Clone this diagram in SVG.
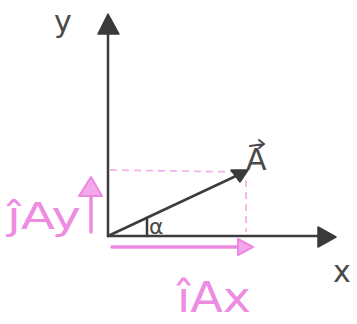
<svg xmlns="http://www.w3.org/2000/svg" width="357" height="324" viewBox="0 0 357 324">
<defs>
<style>
.ax{stroke:#3c3c3c;stroke-width:2.5;fill:none;stroke-linecap:round}
.head{fill:#3a3a3a;stroke:#3a3a3a;stroke-width:1.5;stroke-linejoin:round}
.pk{stroke:#ec8ae0;stroke-width:3.5;fill:none;stroke-linecap:round}
.pkhead{fill:#f2a8ea;stroke:#ec8ae0;stroke-width:2;stroke-linejoin:round}
.dash{stroke:#f4b4ec;stroke-width:1.8;fill:none;stroke-dasharray:7 5}
.lbl{font-family:"DejaVu Sans","Liberation Sans",sans-serif;fill:#4a4a4a}
.plbl{font-family:"DejaVu Sans","Liberation Sans",sans-serif;fill:#ee8ce2}
</style>
</defs>
<rect width="357" height="324" fill="#ffffff"/>
<g id="connectors">
<line class="dash" x1="110" y1="170" x2="240" y2="172"/>
<line class="dash" x1="246" y1="180" x2="246" y2="232"/>
<line class="ax" x1="108" y1="236" x2="108" y2="30"/>
<polygon class="head" points="108,14 98,34 119,34"/>
<line class="ax" x1="108" y1="236" x2="320" y2="236"/>
<polygon class="head" points="336,237 318,227 318,247"/>
<line class="ax" x1="108" y1="236" x2="236" y2="176"/>
<polygon class="head" points="248,170 231,170 240,182"/>
<line class="pk" x1="112" y1="247" x2="240" y2="247"/>
<polygon class="pkhead" points="253,247 238,239 238,255"/>
<line class="pk" x1="91" y1="232" x2="91" y2="194"/>
<polygon class="pkhead" points="91,177 79,196 102,196"/>
<path class="ax" d="M147 218 L147 236" stroke-width="2"/>
</g>
<g id="label-y"><text class="lbl" x="54" y="32" font-size="30">y</text></g>
<g id="label-x"><text class="lbl" x="333" y="282" font-size="30">x</text></g>
<g id="label-A">
<text class="lbl" x="246" y="170" font-size="30">A</text>
<path d="M250 146 L264 144 M259 140 L264 144 L259 148" stroke="#4a4a4a" stroke-width="2" fill="none" stroke-linecap="round"/>
</g>
<g id="label-alpha"><text class="lbl" x="149" y="234" font-size="22">α</text></g>
<g id="label-jAy"><text class="plbl" x="7" y="229" font-size="38" textLength="74" lengthAdjust="spacingAndGlyphs">ĵAy</text></g>
<g id="label-iAx"><text class="plbl" x="177" y="312" font-size="42" textLength="74" lengthAdjust="spacingAndGlyphs">îAx</text></g>
</svg>
